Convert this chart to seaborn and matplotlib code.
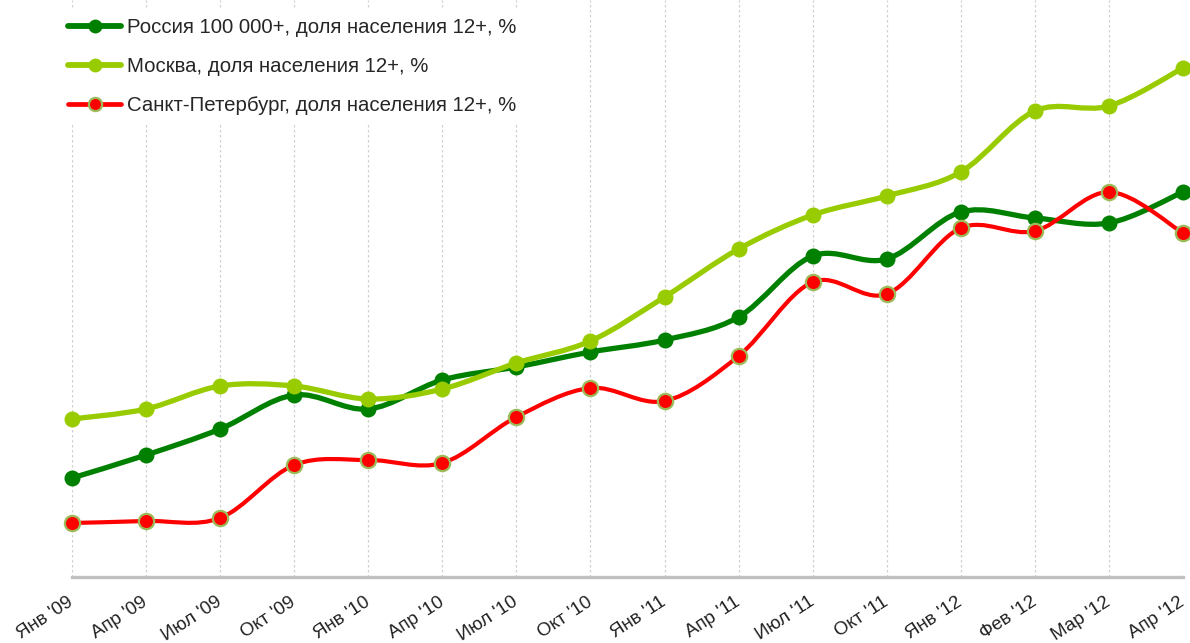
import matplotlib
matplotlib.use('Agg')
import matplotlib.pyplot as plt
from matplotlib.path import Path
from matplotlib.patches import PathPatch
from matplotlib.lines import Line2D
import seaborn as sns
import pandas as pd
import numpy as np

# Months on the x axis
months = ["Янв '09", "Апр '09", "Июл '09", "Окт '09", "Янв '10", "Апр '10",
          "Июл '10", "Окт '10", "Янв '11", "Апр '11", "Июл '11", "Окт '11",
          "Янв '12", "Фев '12", "Мар '12", "Апр '12"]

# Shares of population 12+, %
russia = [9.9, 12.2, 14.8, 18.2, 16.8, 19.7, 21.0, 22.5, 23.7, 26.0, 32.1, 31.8,
          36.5, 35.9, 35.4, 38.5]
moscow = [15.8, 16.8, 19.1, 19.1, 17.8, 18.8, 21.4, 23.6, 28.0, 32.8, 36.2, 38.1,
          40.5, 46.6, 47.1, 50.9]
spb = [5.4, 5.6, 5.9, 11.2, 11.7, 11.4, 16.0, 18.9, 17.6, 22.1, 29.5, 28.3,
       34.9, 34.6, 38.5, 34.4]

series_names = ['Россия 100 000+, доля населения 12+, %',
                'Москва, доля населения 12+, %',
                'Санкт-Петербург, доля населения 12+, %']

df = pd.DataFrame({'x': np.tile(np.arange(len(months)), 3),
                   'value': russia + moscow + spb,
                   'series': np.repeat(series_names, len(months))})

styles = {
    series_names[0]: dict(color='#008000', lw=3.8, ms=11.5, mec='#008000', mew=0),
    series_names[1]: dict(color='#99cc00', lw=3.8, ms=11.5, mec='#99cc00', mew=0),
    series_names[2]: dict(color='#ff0000', lw=3.0, ms=11.0, mec='#9bbb59', mew=1.6),
}


def smooth_path(xs, ys):
    # Catmull-Rom style cubic bezier through the points (drawing only)
    pts = np.column_stack([xs, ys]).astype(float)
    verts = [pts[0]]
    codes = [Path.MOVETO]
    n = len(pts)
    for i in range(n - 1):
        p0 = pts[max(i - 1, 0)]
        p1 = pts[i]
        p2 = pts[i + 1]
        p3 = pts[min(i + 2, n - 1)]
        c1 = p1 + (p2 - p0) / 6.0
        c2 = p2 - (p3 - p1) / 6.0
        verts += [c1, c2, p2]
        codes += [Path.CURVE4] * 3
    return Path(verts, codes)


sns.set_style('white')
plt.rcParams['font.family'] = ['Liberation Sans', 'DejaVu Sans']

fig = plt.figure(figsize=(11.9, 6.43), dpi=100)
ax = fig.add_axes([72 / 1190, (643 - 577) / 643, (1183 - 72) / 1190, 577 / 643])

for k, name in enumerate(series_names):
    st = styles[name]
    sub = df[df['series'] == name]
    patch = PathPatch(smooth_path(sub['x'], sub['value']), facecolor='none',
                      edgecolor=st['color'], lw=st['lw'], capstyle='round',
                      joinstyle='round', zorder=2 + k * 2, clip_on=False)
    ax.add_patch(patch)
    sns.scatterplot(data=sub, x='x', y='value', ax=ax, color=st['color'],
                    s=st['ms'] ** 2, edgecolor=st['mec'], linewidth=st['mew'],
                    zorder=3 + k * 2, clip_on=False, legend=False)

ax.set_xlim(0, len(months) - 1)
ax.set_ylim(0, 57.7)
ax.set_xticks(range(len(months)))
ax.set_xticklabels(months, rotation=33, ha='right', va='center',
                   rotation_mode='anchor', fontsize=13.5, color='#222222')
ax.tick_params(axis='x', length=0, pad=17)
ax.set_yticks([])
ax.set_xlabel('')
ax.set_ylabel('')
ax.grid(axis='x', color='#d0d0d0', linestyle=(0, (2, 2)), lw=0.9)
for side in ['left', 'right', 'top']:
    ax.spines[side].set_visible(False)
ax.spines['bottom'].set_color('#c0c0c0')
ax.spines['bottom'].set_linewidth(2.4)

handles = [Line2D([0], [0], color=styles[n]['color'], lw=styles[n]['lw'] + 0.4,
                  marker='o', ms=styles[n]['ms'] - 1.5, mfc=styles[n]['color'],
                  mec=styles[n]['mec'], mew=styles[n]['mew'])
           for n in series_names]
leg = fig.legend(handles, series_names, loc='upper left',
                 bbox_to_anchor=(50 / 1190, 1), fontsize=14.7,
                 handlelength=2.6, handletextpad=0.25, labelspacing=0.97,
                 frameon=True, facecolor='white', edgecolor='none', framealpha=1)
leg.set_zorder(10)

fig.savefig('out.png', dpi=100)
